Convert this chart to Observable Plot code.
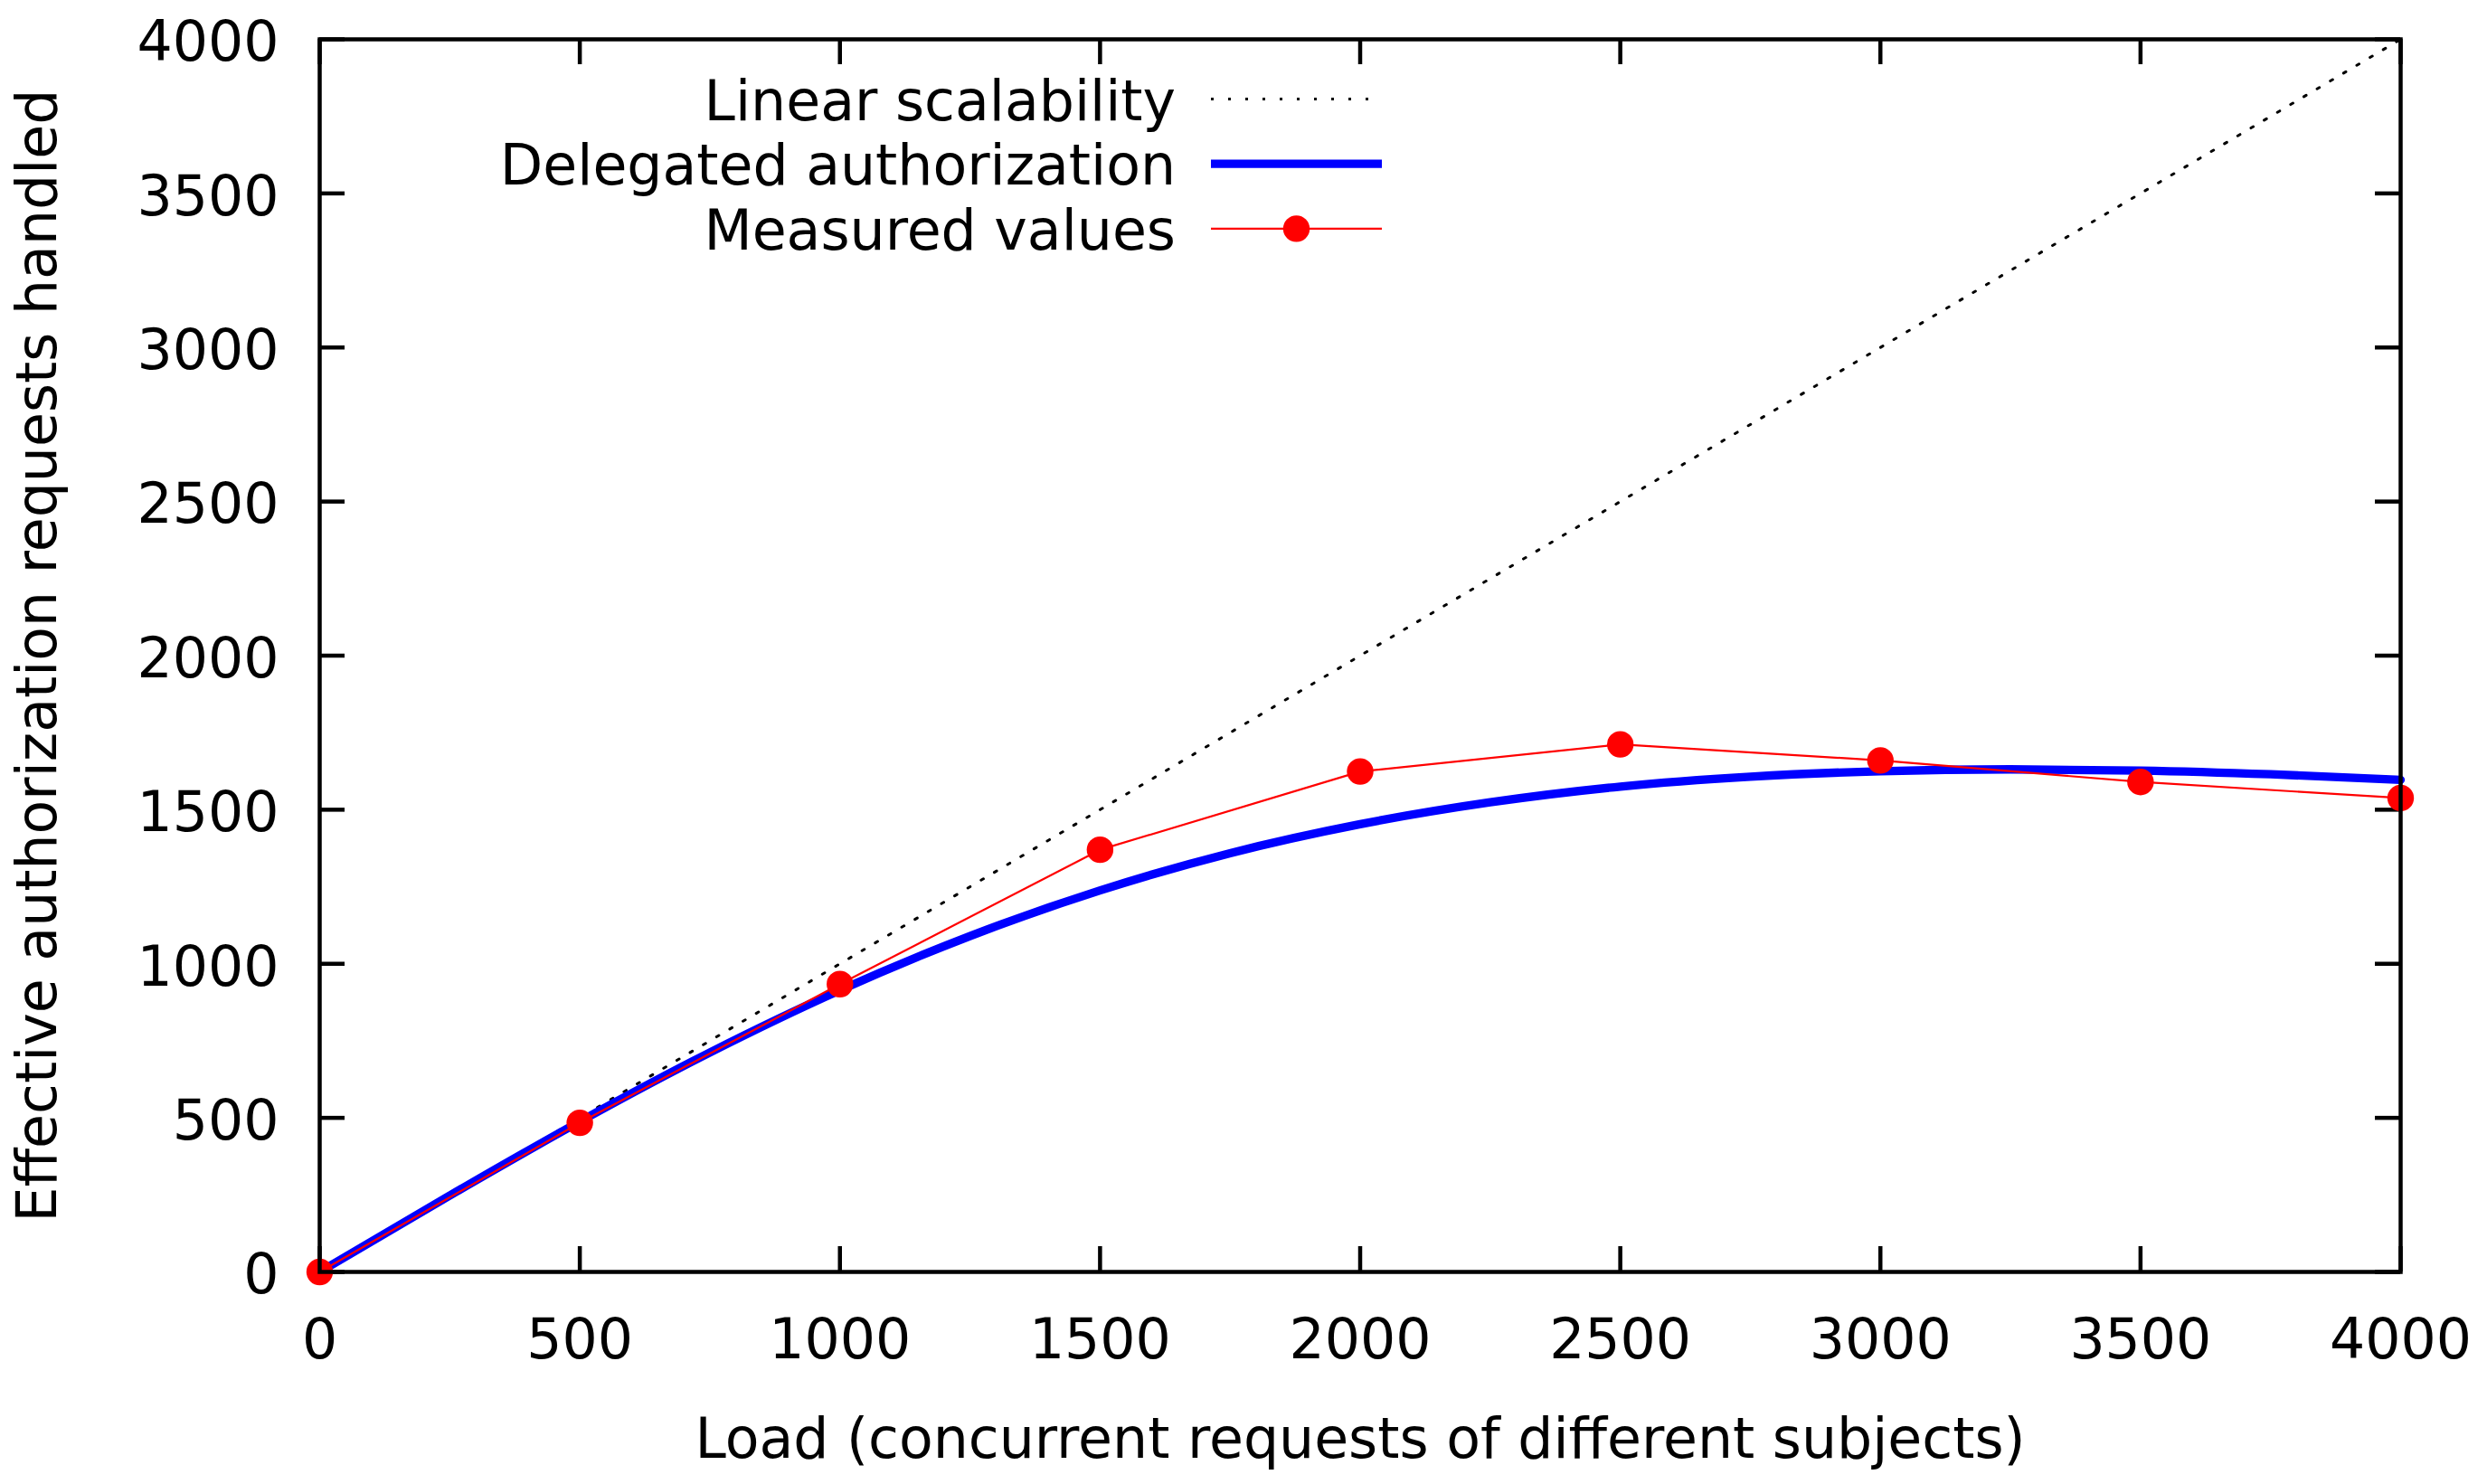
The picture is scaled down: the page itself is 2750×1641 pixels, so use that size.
<!DOCTYPE html>
<html>
<head>
<meta charset="utf-8">
<script src="https://cdn.jsdelivr.net/npm/d3@7"></script>
<script src="https://cdn.jsdelivr.net/npm/@observablehq/plot@0.6"></script>
<style>
  html, body { margin: 0; padding: 0; background: #ffffff; }
  #chart { width: 2750px; height: 1641px; }
</style>
</head>
<body>
<div id="chart"></div>
<script>
// ---------- data ----------
const seriesNames = ["Linear scalability", "Delegated authorization", "Measured values"];

const linearLoad   = [0, 4000];
const linearValues = [0, 4000];

const modelLoad   = [0, 250, 500, 750, 1000, 1250, 1500, 1750, 2000, 2250, 2500, 2750, 3000, 3250, 3500, 3750, 4000];
const modelValues = [0, 248, 488, 712, 914, 1090, 1238, 1359, 1453, 1524, 1575, 1607, 1625, 1631, 1627, 1615, 1597];

const measuredLoad   = [0, 500, 1000, 1500, 2000, 2500, 3000, 3500, 4000];
const measuredValues = [0, 484, 934, 1370, 1624, 1712, 1660, 1590, 1538];

const xTicks = [0, 500, 1000, 1500, 2000, 2500, 3000, 3500, 4000];
const yTicks = [0, 500, 1000, 1500, 2000, 2500, 3000, 3500, 4000];

const xTitle = "Load (concurrent requests of different subjects)";
const yTitle = "Effective authorization requests handled";

// ---------- tables ----------
const linear   = linearLoad.map((x, i) => ({x, y: linearValues[i]}));
const model    = modelLoad.map((x, i) => ({x, y: modelValues[i]}));
const measured = measuredLoad.map((x, i) => ({x, y: measuredValues[i]}));

// ---------- layout ----------
const W = 2750, H = 1641;
const mTop = 43, mBottom = 235, mLeft = 353, mRight = 96;
const frameH = H - mTop - mBottom;
const frameW = W - mLeft - mRight;
const tickLen = 28;
const FONT = "DejaVu Sans";
const FS = 61.7;

const BLUE = "#0000ff", RED = "#ff0000", BLACK = "#000000";

function legendMark(index, scales, values, dims) {
  const g = d3.create("svg:g")
    .attr("font-family", FONT)
    .attr("font-size", FS)
    .attr("fill", BLACK);
  const textRight = 1300, x1 = 1339, x2 = 1528, firstRow = 109.5, rowStep = 71.7;
  const styles = [
    {stroke: BLACK, width: 3, dash: "3,16", dot: false},
    {stroke: BLUE, width: 9.3, dash: null, dot: false},
    {stroke: RED, width: 2.2, dash: null, dot: true}
  ];
  seriesNames.forEach((name, i) => {
    const cy = firstRow + i * rowStep;
    g.append("text")
      .attr("x", textRight).attr("y", cy + 23)
      .attr("text-anchor", "end")
      .text(name);
    const l = g.append("line")
      .attr("x1", x1).attr("x2", x2).attr("y1", cy).attr("y2", cy)
      .attr("stroke", styles[i].stroke)
      .attr("stroke-width", styles[i].width);
    if (styles[i].dash) l.attr("stroke-dasharray", styles[i].dash);
    if (styles[i].dot) {
      g.append("circle").attr("cx", (x1 + x2) / 2).attr("cy", cy).attr("r", 14.7).attr("fill", RED);
    }
  });
  return g.node();
}

const chart = Plot.plot({
  width: W,
  height: H,
  marginTop: mTop,
  marginBottom: mBottom,
  marginLeft: mLeft,
  marginRight: mRight,
  style: {background: "#ffffff", fontFamily: FONT, maxWidth: "none", color: BLACK},
  x: {type: "linear", domain: [0, 4000]},
  y: {type: "linear", domain: [0, 4000]},
  marks: [
    // inward ticks on all four sides
    Plot.tickX(xTicks, {x: d => d, insetTop: frameH - tickLen, stroke: BLACK, strokeWidth: 4.5}),
    Plot.tickX(xTicks, {x: d => d, insetBottom: frameH - tickLen, stroke: BLACK, strokeWidth: 4.5}),
    Plot.tickY(yTicks, {y: d => d, insetRight: frameW - tickLen, stroke: BLACK, strokeWidth: 4.5}),
    Plot.tickY(yTicks, {y: d => d, insetLeft: frameW - tickLen, stroke: BLACK, strokeWidth: 4.5}),

    // series
    Plot.line(linear, {x: "x", y: "y", stroke: BLACK, strokeWidth: 3, strokeDasharray: "3,14"}),
    Plot.line(model, {x: "x", y: "y", stroke: BLUE, strokeWidth: 9.3, curve: "monotone-x"}),
    Plot.line(measured, {x: "x", y: "y", stroke: RED, strokeWidth: 2.2}),
    Plot.dot(measured, {x: "x", y: "y", r: 14.7, fill: RED, stroke: null}),

    Plot.frame({stroke: BLACK, strokeWidth: 4.5}),

    // tick labels
    Plot.axisX({ticks: xTicks, tickSize: 0, tickPadding: 52, fontSize: FS, label: null,
      tickFormat: d => String(d), fill: BLACK}),
    Plot.axisY({ticks: yTicks, tickSize: 0, tickPadding: 45, fontSize: FS, label: null,
      tickFormat: d => String(d), fill: BLACK, dy: 4}),

    // axis titles
    Plot.text([xTitle], {text: d => d, frameAnchor: "bottom", dy: 205, lineAnchor: "bottom",
      fontSize: FS, fill: BLACK, textAnchor: "middle"}),
    Plot.text([yTitle], {text: d => d, frameAnchor: "left", rotate: -90, dx: -292, lineAnchor: "bottom",
      fontSize: FS, fill: BLACK, textAnchor: "middle"}),

    // legend
    legendMark
  ]
});

document.getElementById("chart").appendChild(chart);
</script>
</body>
</html>
